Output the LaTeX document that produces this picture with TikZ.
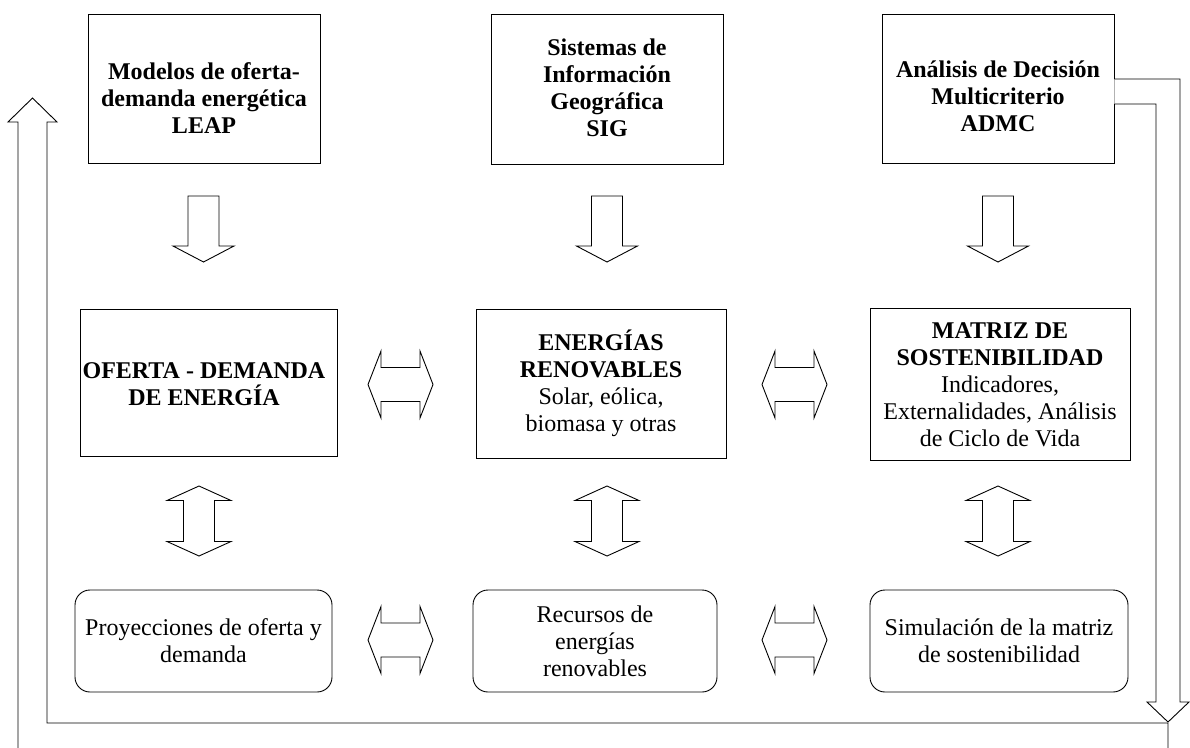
\documentclass[tikz,border=0pt]{standalone}
\usepackage{fontspec}
\setmainfont{Liberation Serif}
\begin{document}
\begin{tikzpicture}[x=1pt,y=-1pt,line width=0.9pt,
  box/.style={draw,rectangle,inner sep=0pt},
  rbox/.style={draw,rectangle,rounded corners=15pt,inner sep=0pt},
  txt/.style={align=center,inner sep=0pt,font=\fontsize{24}{27}\selectfont},
  blk/.style={draw,fill=white,line join=miter},
  downarr/.pic={\draw[blk] (-15.5,0) -- (15.5,0) -- (15.5,50) -- (30.5,50) -- (0,66) -- (-30.5,50) -- (-15.5,50) -- cycle;},
  hdbl/.pic={\draw[blk] (-32.5,0) -- (-19.5,-33.5) -- (-19.5,-17) -- (19.5,-17) -- (19.5,-33.5) -- (32.5,0) -- (19.5,33.5) -- (19.5,17) -- (-19.5,17) -- (-19.5,33.5) -- cycle;},
  vdbl/.pic={\draw[blk] (0,-35) -- (32,-20.5) -- (15.5,-20.5) -- (15.5,20.5) -- (32,20.5) -- (0,35) -- (-32,20.5) -- (-15.5,20.5) -- (-15.5,-20.5) -- (-32,-20.5) -- cycle;}]
\useasboundingbox (0,0) rectangle (1190,747);
\fill[white] (0,0) rectangle (1190,747);
\clip (0,0) rectangle (1190,747);

% top row
\node[box,minimum width=232pt,minimum height=149pt] (b1) at (204,88.5) {};
\node[txt] (t1) at (204,98) {\bfseries Modelos de oferta-\\\bfseries demanda energética\\\bfseries LEAP};
\node[box,minimum width=232pt,minimum height=150pt] (b2) at (607,89) {};
\node[txt] (t2) at (607,88) {\bfseries Sistemas de\\\bfseries Información\\\bfseries Geográfica\\\bfseries SIG};
\node[box,minimum width=232pt,minimum height=149pt] (b3) at (998,88.5) {};
\node[txt] (t3) at (998,96) {\bfseries Análisis de Decisión\\\bfseries Multicriterio\\\bfseries ADMC};

% middle row
\node[box,minimum width=257pt,minimum height=147pt] (m1) at (208.5,382.5) {};
\node[txt] (tm1) at (204,384) {\bfseries OFERTA - DEMANDA\\\bfseries DE ENERGÍA};
\node[box,minimum width=250pt,minimum height=149pt] (m2) at (601,383.5) {};
\node[txt] (tm2) at (601,383) {\bfseries ENERGÍAS\\\bfseries RENOVABLES\\Solar, eólica,\\biomasa y otras};
\node[box,minimum width=260pt,minimum height=152pt] (m3) at (1000,384.5) {};
\node[txt] (tm3) at (1000,385) {\bfseries MATRIZ DE\\\bfseries SOSTENIBILIDAD\\Indicadores,\\Externalidades, Análisis\\de Ciclo de Vida};

% bottom row
\node[rbox,minimum width=257pt,minimum height=102pt] (r1) at (203.5,641) {};
\node[txt] (tr1) at (203.5,641) {Proyecciones de oferta y\\demanda};
\node[rbox,minimum width=244pt,minimum height=102pt] (r2) at (595,641) {};
\node[txt] (tr2) at (595,641) {Recursos de\\energías\\renovables};
\node[rbox,minimum width=258pt,minimum height=102pt] (r3) at (999,641) {};
\node[txt] (tr3) at (999,641) {Simulación de la matriz\\de sostenibilidad};

% block arrows
\pic at (203.5,196) {downarr};
\pic at (607,196) {downarr};
\pic at (998,196) {downarr};
\pic at (400.5,384.5) {hdbl};
\pic at (794.5,384.5) {hdbl};
\pic at (400.5,640) {hdbl};
\pic at (794.5,640) {hdbl};
\pic at (199,521) {vdbl};
\pic at (607,521) {vdbl};
\pic at (998,521) {vdbl};

% return loop
\coordinate (a1) at (b3.east |- 0,79);
\coordinate (a2) at (b3.east |- 0,104);
\draw[gray!60] (a1) -- (a2);
\draw[line join=miter] (a1) -- (1180,79) -- (1180,702) -- (1189,702) -- (1168,722) -- (1147,702) -- (1156,702) -- (1156,104) -- (a2);
\draw[line join=miter] (1168,760) -- (1168,723) -- (47,723) -- (47,122) -- (57,122) -- (32.5,98) -- (8,122) -- (18,122) -- (18,760);
\end{tikzpicture}
\end{document}
